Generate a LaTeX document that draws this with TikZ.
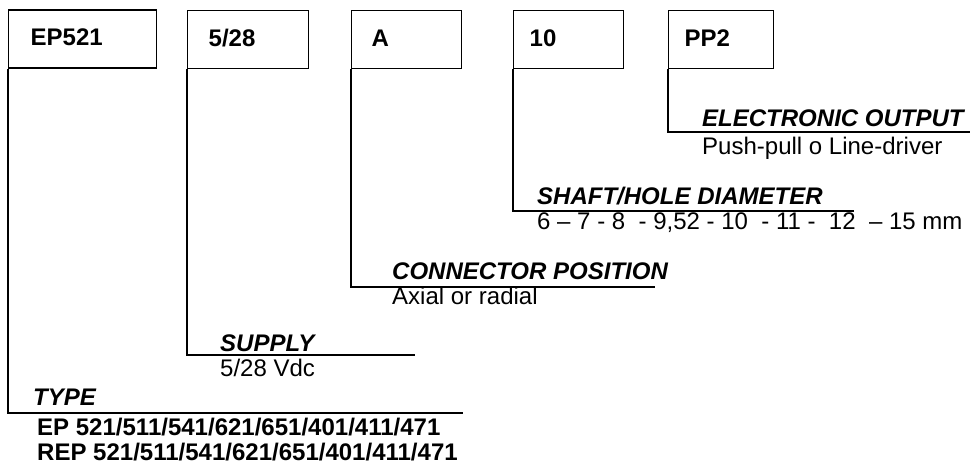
\documentclass[tikz,border=0pt]{standalone}
\usepackage{fontspec}
\setmainfont{Liberation Sans}
\begin{document}
\begin{tikzpicture}[x=1bp,y=-1bp,
  every node/.style={font=\fontsize{24.1}{28}\selectfont},
  box/.style={draw, line width=1.3bp, inner sep=0pt, minimum height=58bp,
    text height=17.3bp, text depth=4.3bp, align=left, anchor=north west,
    font=\fontsize{24.1}{28}\selectfont\bfseries},
  hdr/.style={inner sep=0pt, anchor=base west, font=\fontsize{24.1}{28}\selectfont\bfseries\itshape},
  val/.style={inner sep=0pt, anchor=base west},
  valb/.style={inner sep=0pt, anchor=base west, font=\fontsize{24.1}{28}\selectfont\bfseries},
  lead/.style={line width=1.3bp}]
\useasboundingbox (0,0) rectangle (970,467);
% boxes
\node[box, text width=148bp] (b1) at (8,9.5) {\hspace*{22bp}EP521};
\node[box, text width=121bp] (b2) at (187,10) {\hspace*{21bp}5/28};
\node[box, text width=110bp] (b3) at (351,10) {\hspace*{20bp}A};
\node[box, text width=110bp] (b4) at (513,10) {\hspace*{16bp}10};
\node[box, text width=105bp] (b5) at (668,10) {\hspace*{16bp}PP2};
% line ends
\coordinate (e1) at (463,413);
\coordinate (e2) at (415,355);
\coordinate (e3) at (655,287);
\coordinate (e4) at (854,211);
\coordinate (e5) at (970,132);
\draw[lead] (b1.south west) |- (e1);
\draw[lead] (b2.south west) |- (e2);
\draw[lead] (b3.south west) |- (e3);
\draw[lead] (b4.south west) |- (e4);
\draw[lead] (b5.south west) |- (e5);
% labels
\node[hdr] (h1) at (33,405) {TYPE};
\node[valb] (v1a) at (37,435) {EP 521/511/541/621/651/401/411/471};
\node[valb] (v1b) at (37,460) {REP 521/511/541/621/651/401/411/471};
\node[hdr] (h2) at (220,352) {SUPPLY};
\node[val] (v2) at (220,377) {5/28 Vdc};
\node[hdr] (h3) at (392,280) {CONNECTOR POSITION};
\node[val] (v3) at (392,305) {Axial or radial};
\node[hdr] (h4) at (537,205) {SHAFT/HOLE DIAMETER};
\node[val] (v4) at (537,230) {6 -- 7 - 8 \ - 9,52 - 10 \ - 11 - \ 12 \ -- 15 mm};
\node[hdr] (h5) at (702,127) {ELECTRONIC OUTPUT};
\node[val] (v5) at (702,155) {Push-pull o Line-driver};
\end{tikzpicture}
\end{document}
